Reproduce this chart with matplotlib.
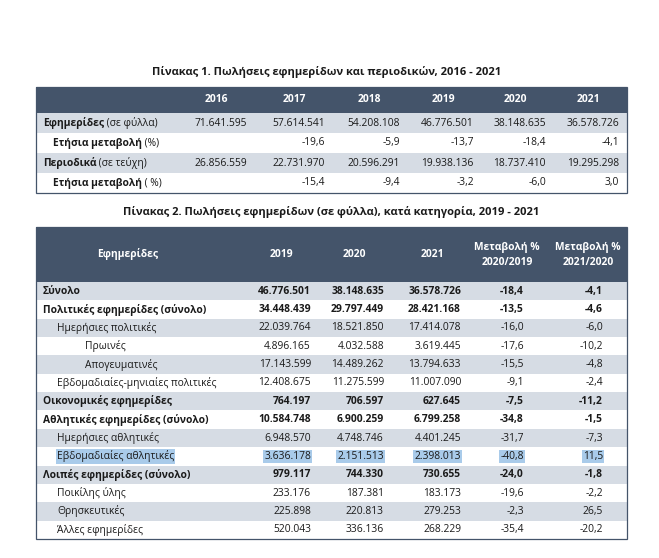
import matplotlib.pyplot as plt
from matplotlib.patches import Rectangle

plt.rcParams['font.family'] = ['Open Sans', 'DejaVu Sans']

# Πίνακας 1
title_1 = 'Πίνακας 1. Πωλήσεις εφημερίδων και περιοδικών, 2016 - 2021'
years_1 = ['2016', '2017', '2018', '2019', '2020', '2021']
newspapers = [71641595, 57614541, 54208108, 46776501, 38148635, 36578726]
newspapers_chg = [None, -19.6, -5.9, -13.7, -18.4, -4.1]
magazines = [26856559, 22731970, 20596291, 19938136, 18737410, 19295298]
magazines_chg = [None, -15.4, -9.4, -3.2, -6.0, 3.0]

# Πίνακας 2
title_2 = 'Πίνακας 2. Πωλήσεις εφημερίδων (σε φύλλα), κατά κατηγορία, 2019 - 2021'
headers_2 = ['Εφημερίδες', '2019', '2020', '2021', 'Μεταβολή %\n2020/2019', 'Μεταβολή %\n2021/2020']
categories = ['Σύνολο', 'Πολιτικές εφημερίδες (σύνολο)', 'Ημερήσιες πολιτικές', 'Πρωινές',
              'Απογευματινές', 'Εβδομαδιαίες-μηνιαίες πολιτικές', 'Οικονομικές εφημερίδες',
              'Αθλητικές εφημερίδες (σύνολο)', 'Ημερήσιες αθλητικές', 'Εβδομαδιαίες αθλητικές',
              'Λοιπές εφημερίδες (σύνολο)', 'Ποικίλης ύλης', 'Θρησκευτικές', 'Άλλες εφημερίδες']
levels = [0, 0, 1, 2, 2, 1, 0, 0, 1, 1, 0, 1, 1, 1]
sales_2019 = [46776501, 34448439, 22039764, 4896165, 17143599, 12408675, 764197,
              10584748, 6948570, 3636178, 979117, 233176, 225898, 520043]
sales_2020 = [38148635, 29797449, 18521850, 4032588, 14489262, 11275599, 706597,
              6900259, 4748746, 2151513, 744330, 187381, 220813, 336136]
sales_2021 = [36578726, 28421168, 17414078, 3619445, 13794633, 11007090, 627645,
              6799258, 4401245, 2398013, 730655, 183173, 279253, 268229]
chg_2020_2019 = [-18.4, -13.5, -16.0, -17.6, -15.5, -9.1, -7.5, -34.8, -31.7, -40.8, -24.0, -19.6, -2.3, -35.4]
chg_2021_2020 = [-4.1, -4.6, -6.0, -10.2, -4.8, -2.4, -11.2, -1.5, -7.3, 11.5, -1.8, -2.2, 26.5, -20.2]
highlighted = 'Εβδομαδιαίες αθλητικές'

HEAD = '#44546A'
STRIPE = '#D6DCE4'
TXT = '#1a1a1a'
SEL = '#A9CBEA'
FS = 7.4


def fmt_int(v):
    return f'{v:,}'.replace(',', '.')


def fmt_pct(v):
    if v is None:
        return ''
    return f'{v:.1f}'.replace('.', ',')


fig = plt.figure(figsize=(6.59, 5.58), dpi=100)
ax = fig.add_axes([0, 0, 1, 1])
ax.set_xlim(0, 659)
ax.set_ylim(558, 0)
ax.axis('off')
renderer = fig.canvas.get_renderer()


def mixed_label(x, y, bold_part, normal_part):
    t = ax.text(x, y, bold_part, fontsize=FS, fontweight='bold', color=TXT, va='center', ha='left')
    bb = t.get_window_extent(renderer=renderer)
    x2 = ax.transData.inverted().transform((bb.x1, bb.y0))[0]
    ax.text(x2, y, normal_part, fontsize=FS, color=TXT, va='center', ha='left')


left, right = 36, 627

# ---- table 1 ----
ax.text(327, 72, title_1, fontsize=8, fontweight='bold', color=TXT, ha='center', va='center')
t1_top, t1_head_bot, row_h1 = 87, 113, 20
ax.add_patch(Rectangle((left, t1_top), right - left, t1_head_bot - t1_top, color=HEAD, lw=0))
val_right_1 = [247, 325, 400, 474, 546, 619]
for i, yr in enumerate(years_1):
    ax.text(val_right_1[i] - 31, (t1_top + t1_head_bot) / 2, yr, fontsize=FS, fontweight='bold',
            color='white', ha='center', va='center')

rows_1 = [
    (('Εφημερίδες', ' (σε φύλλα)', 43), [fmt_int(v) for v in newspapers]),
    (('Ετήσια μεταβολή', ' (%)', 53), [fmt_pct(v) for v in newspapers_chg]),
    (('Περιοδικά', ' (σε τεύχη)', 43), [fmt_int(v) for v in magazines]),
    (('Ετήσια μεταβολή', ' ( %)', 53), [fmt_pct(v) for v in magazines_chg]),
]
for r, ((b, n, x0), vals) in enumerate(rows_1):
    y0 = t1_head_bot + r * row_h1
    if r % 2 == 0:
        ax.add_patch(Rectangle((left, y0), right - left, row_h1, color=STRIPE, lw=0))
    yc = y0 + row_h1 / 2
    mixed_label(x0, yc, b, n)
    for i, s in enumerate(vals):
        ax.text(val_right_1[i], yc, s, fontsize=FS, color=TXT, ha='right', va='center')
t1_bot = t1_head_bot + len(rows_1) * row_h1
ax.add_patch(Rectangle((left, t1_top), right - left, t1_bot - t1_top, fill=False, ec=HEAD, lw=0.9))

# ---- table 2 ----
ax.text(331, 212, title_2, fontsize=8, fontweight='bold', color=TXT, ha='center', va='center')
t2_top, t2_head_bot = 227, 282
row_h2 = (539 - t2_head_bot) / len(categories)
ax.add_patch(Rectangle((left, t2_top), right - left, t2_head_bot - t2_top, color=HEAD, lw=0))
head_x = [128, 281, 354, 432, 507, 588]
for hx, h in zip(head_x, headers_2):
    ax.text(hx, (t2_top + t2_head_bot) / 2, h, fontsize=FS, fontweight='bold', color='white',
            ha='center', va='center', linespacing=1.5)

val_right_2 = [311, 384, 461, 524, 603]
indent = {0: 43, 1: 57, 2: 85}
for r, cat in enumerate(categories):
    y0 = t2_head_bot + r * row_h2
    if r % 2 == 0:
        ax.add_patch(Rectangle((left, y0), right - left, row_h2, color=STRIPE, lw=0))
    yc = y0 + row_h2 / 2
    bold = levels[r] == 0
    fw = 'bold' if bold else 'normal'
    sel = dict(boxstyle='square,pad=0.12', fc=SEL, ec='none') if cat == highlighted else None
    ax.text(indent[levels[r]], yc, cat, fontsize=FS, fontweight=fw, color=TXT,
            ha='left', va='center', bbox=sel)
    vals = [fmt_int(sales_2019[r]), fmt_int(sales_2020[r]), fmt_int(sales_2021[r]),
            fmt_pct(chg_2020_2019[r]), fmt_pct(chg_2021_2020[r])]
    for xr, s in zip(val_right_2, vals):
        ax.text(xr, yc, s, fontsize=FS, fontweight=fw, color=TXT, ha='right', va='center', bbox=sel)
ax.add_patch(Rectangle((left, t2_top), right - left, 539 - t2_top, fill=False, ec=HEAD, lw=0.9))

fig.savefig('out.png', dpi=100, facecolor='white')
